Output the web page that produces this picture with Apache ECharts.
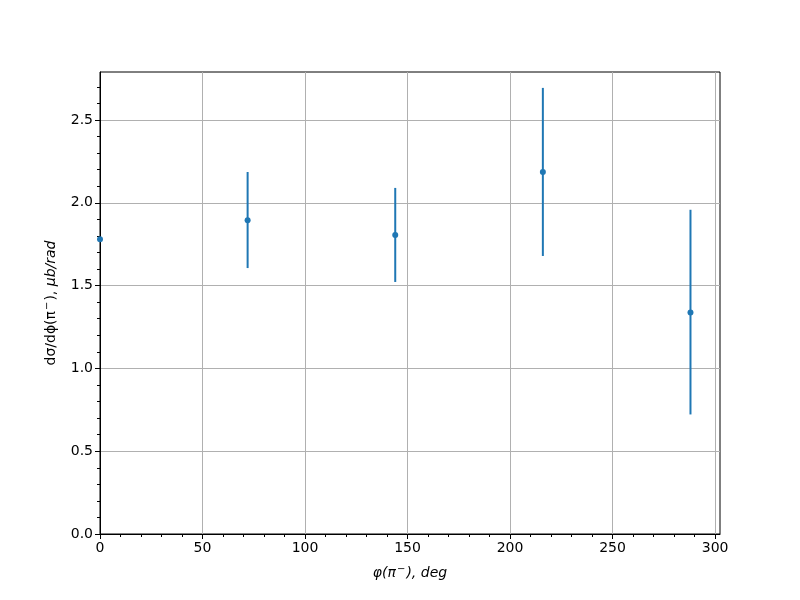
<!DOCTYPE html>
<html>
<head>
<meta charset="utf-8">
<script src="https://cdn.jsdelivr.net/npm/echarts@6/dist/echarts.min.js"></script>
<style>html,body{margin:0;padding:0;background:#fff}#c{width:800px;height:600px}</style>
</head>
<body>
<div id="c"></div>
<script>
// Data
const phiDeg   = [0, 72, 144, 216, 288];
const xsec     = [1.78, 1.895, 1.806, 2.186, 1.337];
const errLow   = [1.78, 1.606, 1.522, 1.679, 0.722];
const errHigh  = [1.78, 2.186, 2.090, 2.694, 1.958];
const xTicks   = [0, 50, 100, 150, 200, 250, 300];
const yTicks   = [0.0, 0.5, 1.0, 1.5, 2.0, 2.5];

const X_MAX = 302.4, Y_MAX = 2.79;
const FONT = 'DejaVu Sans';
const blue = '#1f77b4';

const pts = phiDeg.map((x, i) => [x, xsec[i]]);
const bars = phiDeg.map((x, i) => [x, errLow[i], errHigh[i]]);

const chart = echarts.init(document.getElementById('c'));
chart.setOption({
  animation: false,
  backgroundColor: '#fff',
  grid: { left: 100, right: 80, top: 72, bottom: 66, show: true, borderColor: '#000', borderWidth: 1, backgroundColor: 'transparent' },
  xAxis: {
    type: 'value', min: 0, max: X_MAX, interval: 50,
    name: '{i|φ(π}{s|−}{i|), deg}', nameLocation: 'middle', nameGap: 30,
    nameTextStyle: { rich: { i: { fontFamily: FONT, fontStyle: 'italic', fontSize: 14, color: '#000' }, s: { fontFamily: FONT, fontStyle: 'italic', fontSize: 10, color: '#000', verticalAlign: 'top', padding: [0,1,8,1] } } },
    axisLine: { show: true, onZero: false, lineStyle: { color: '#000', width: 1 } },
    axisTick: { show: true, inside: false, length: 5, lineStyle: { color: '#000' }, customValues: xTicks },
    minorTick: { show: true, splitNumber: 5, length: 3, lineStyle: { color: '#000' } },
    axisLabel: { fontFamily: FONT, fontSize: 14, color: '#000', margin: 7, customValues: xTicks, formatter: v => String(v) },
    splitLine: { show: true, lineStyle: { color: '#b0b0b0', width: 1 } },
    minorSplitLine: { show: false }
  },
  yAxis: {
    type: 'value', min: 0, max: Y_MAX, interval: 0.5,
    name: '{u|dσ/dϕ(π}{s|−}{u|), }{i|μb/rad}', nameLocation: 'middle', nameGap: 40,
    nameTextStyle: { rich: { u: { fontFamily: FONT, fontSize: 14, color: '#000' }, i: { fontFamily: FONT, fontStyle: 'italic', fontSize: 14, color: '#000' }, s: { fontFamily: FONT, fontSize: 10, color: '#000', verticalAlign: 'top', padding: [0,1,8,1] } } },
    axisLine: { show: true, onZero: false, lineStyle: { color: '#000', width: 1 } },
    axisTick: { show: true, inside: false, length: 5, lineStyle: { color: '#000' }, customValues: yTicks },
    minorTick: { show: true, splitNumber: 5, length: 3, lineStyle: { color: '#000' } },
    axisLabel: { fontFamily: FONT, fontSize: 14, color: '#000', margin: 7, customValues: yTicks, formatter: v => v.toFixed(1) },
    splitLine: { show: true, lineStyle: { color: '#b0b0b0', width: 1 } },
    minorSplitLine: { show: false }
  },
  series: [
    {
      type: 'custom',
      data: bars,
      clip: true,
      z: 3,
      renderItem: function (params, api) {
        const top = api.coord([api.value(0), api.value(2)]);
        const bot = api.coord([api.value(0), api.value(1)]);
        return { type: 'line', shape: { x1: top[0], y1: top[1], x2: bot[0], y2: bot[1] }, style: { stroke: blue, lineWidth: 2 } };
      }
    },
    {
      type: 'scatter',
      data: pts,
      symbol: 'circle',
      symbolSize: 6,
      itemStyle: { color: blue, opacity: 1 },
      emphasis: { disabled: true },
      clip: true,
      z: 4
    }
  ]
});
</script>
</body>
</html>
